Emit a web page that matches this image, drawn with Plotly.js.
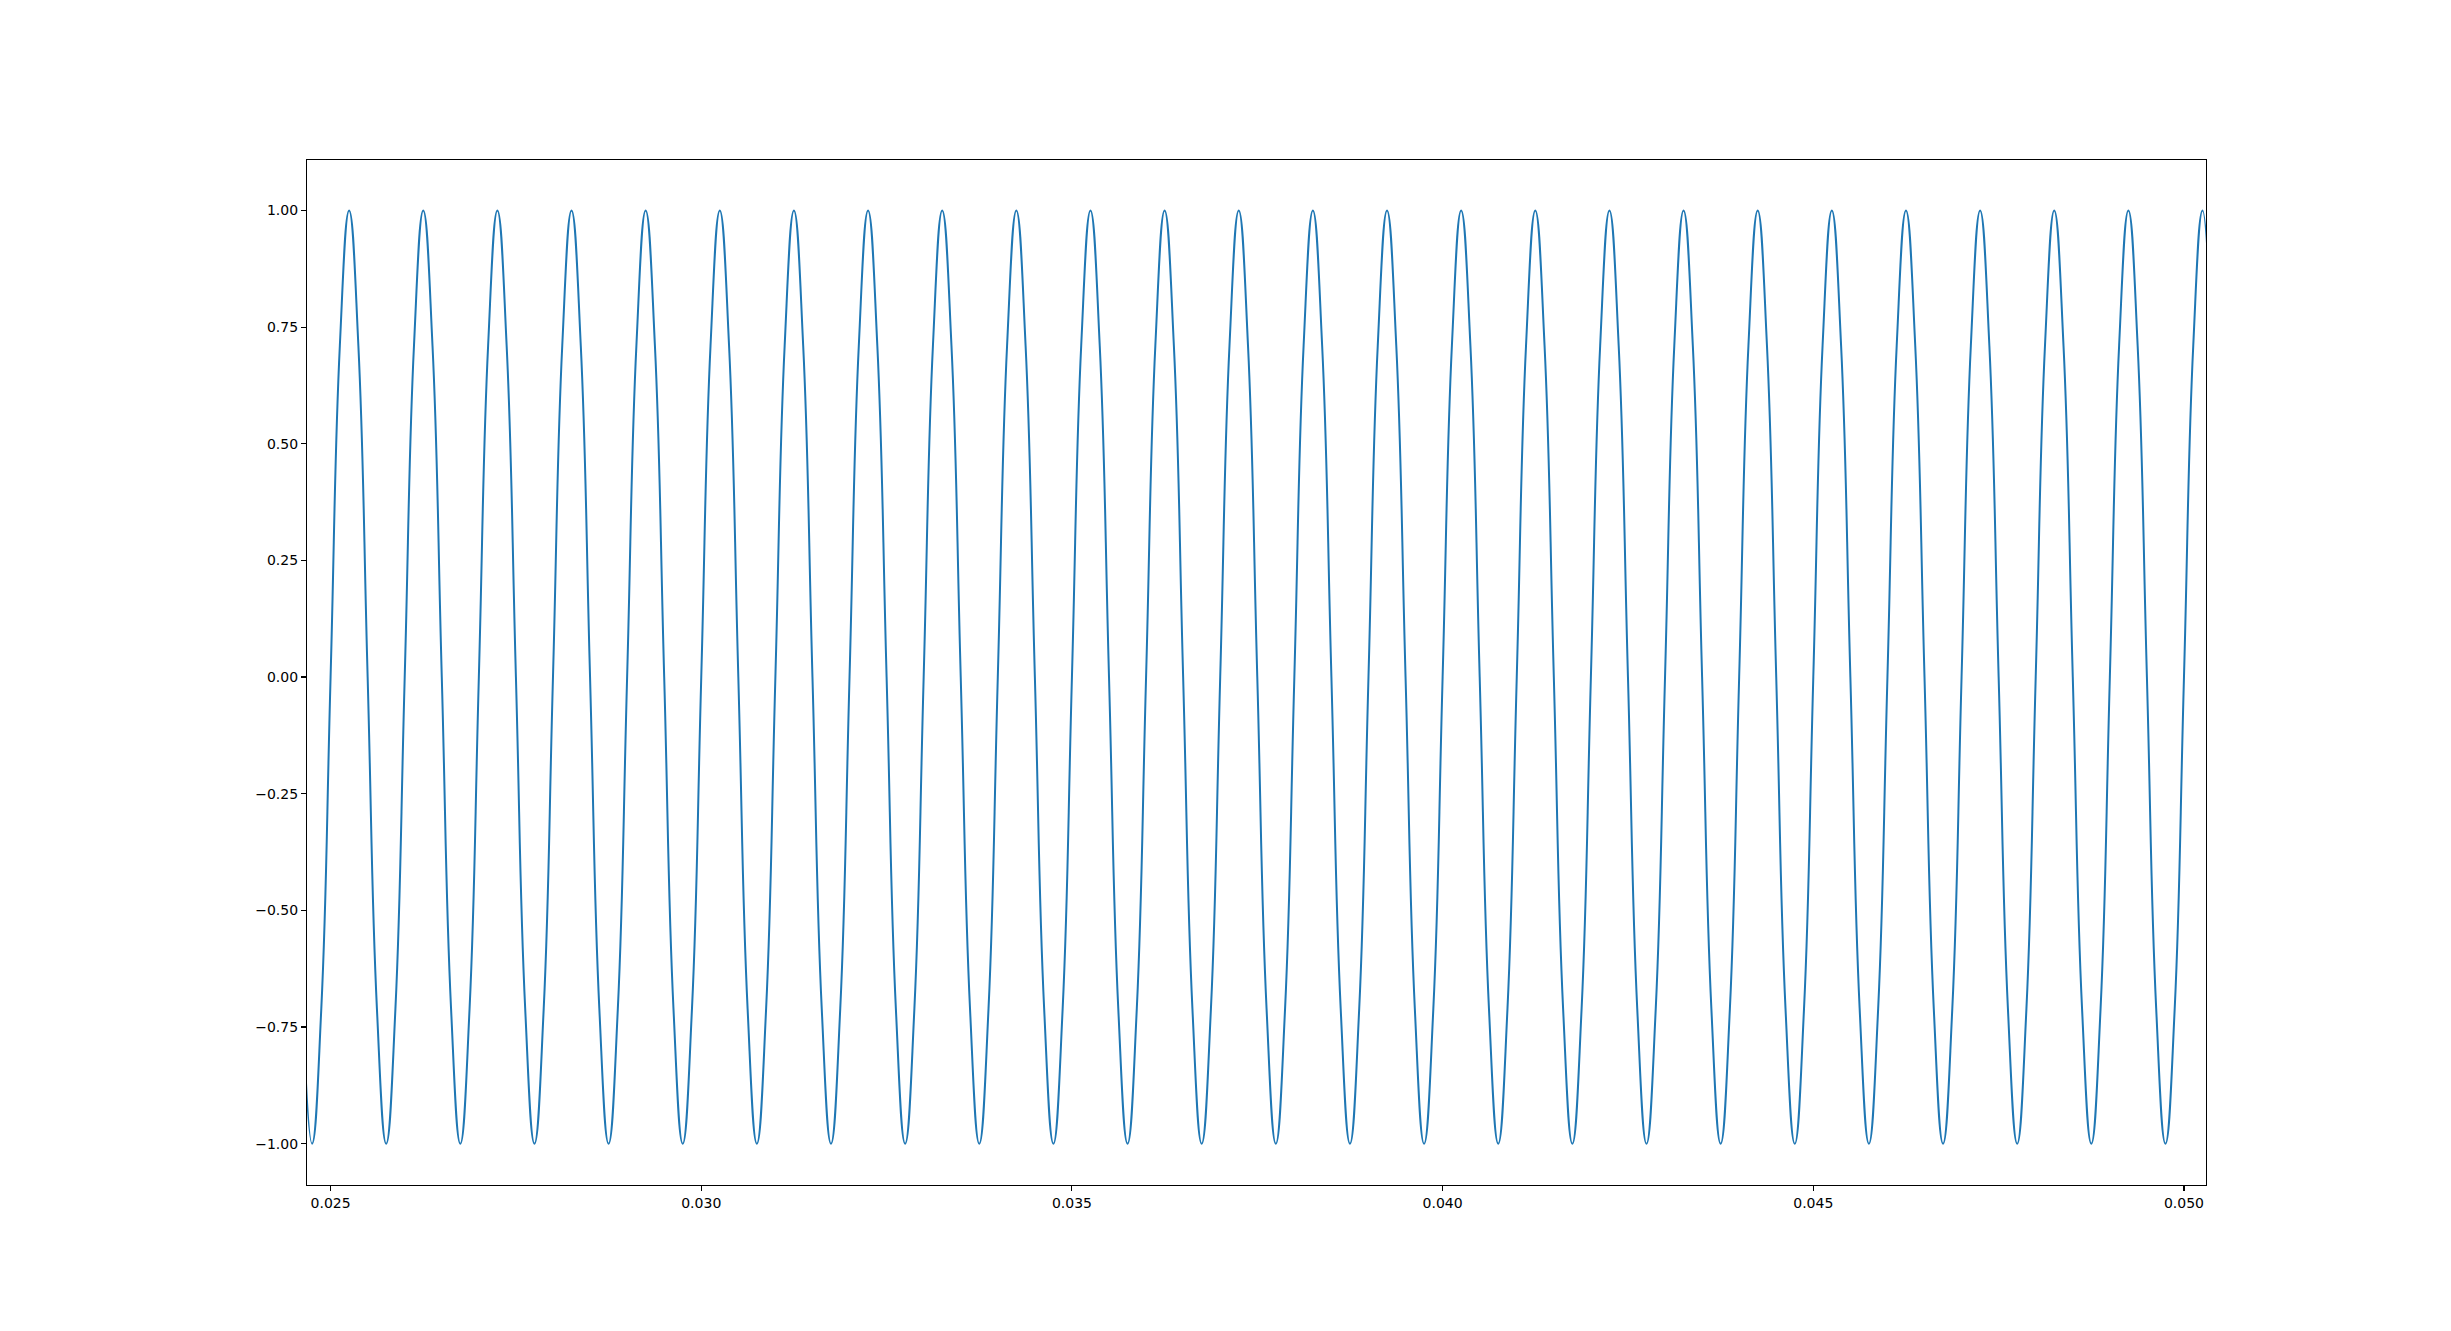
<!DOCTYPE html>
<html>
<head>
<meta charset="utf-8">
<script src="https://cdn.plot.ly/plotly-3.0.1.min.js"></script>
<style>html,body{margin:0;padding:0;background:#fff;}#chart{width:2451px;height:1331px;}</style>
</head>
<body>
<div id="chart"></div>
<script>
// Time samples (s), read at 1/8-period spacing from the picture
const timeS = [
  0.024625, 0.02475, 0.024875,
  0.025, 0.025125, 0.02525, 0.025375, 0.0255, 0.025625, 0.02575, 0.025875,
  0.026, 0.026125, 0.02625, 0.026375, 0.0265, 0.026625, 0.02675, 0.026875,
  0.027, 0.027125, 0.02725, 0.027375, 0.0275, 0.027625, 0.02775, 0.027875,
  0.028, 0.028125, 0.02825, 0.028375, 0.0285, 0.028625, 0.02875, 0.028875,
  0.029, 0.029125, 0.02925, 0.029375, 0.0295, 0.029625, 0.02975, 0.029875,
  0.030, 0.030125, 0.03025, 0.030375, 0.0305, 0.030625, 0.03075, 0.030875,
  0.031, 0.031125, 0.03125, 0.031375, 0.0315, 0.031625, 0.03175, 0.031875,
  0.032, 0.032125, 0.03225, 0.032375, 0.0325, 0.032625, 0.03275, 0.032875,
  0.033, 0.033125, 0.03325, 0.033375, 0.0335, 0.033625, 0.03375, 0.033875,
  0.034, 0.034125, 0.03425, 0.034375, 0.0345, 0.034625, 0.03475, 0.034875,
  0.035, 0.035125, 0.03525, 0.035375, 0.0355, 0.035625, 0.03575, 0.035875,
  0.036, 0.036125, 0.03625, 0.036375, 0.0365, 0.036625, 0.03675, 0.036875,
  0.037, 0.037125, 0.03725, 0.037375, 0.0375, 0.037625, 0.03775, 0.037875,
  0.038, 0.038125, 0.03825, 0.038375, 0.0385, 0.038625, 0.03875, 0.038875,
  0.039, 0.039125, 0.03925, 0.039375, 0.0395, 0.039625, 0.03975, 0.039875,
  0.040, 0.040125, 0.04025, 0.040375, 0.0405, 0.040625, 0.04075, 0.040875,
  0.041, 0.041125, 0.04125, 0.041375, 0.0415, 0.041625, 0.04175, 0.041875,
  0.042, 0.042125, 0.04225, 0.042375, 0.0425, 0.042625, 0.04275, 0.042875,
  0.043, 0.043125, 0.04325, 0.043375, 0.0435, 0.043625, 0.04375, 0.043875,
  0.044, 0.044125, 0.04425, 0.044375, 0.0445, 0.044625, 0.04475, 0.044875,
  0.045, 0.045125, 0.04525, 0.045375, 0.0455, 0.045625, 0.04575, 0.045875,
  0.046, 0.046125, 0.04625, 0.046375, 0.0465, 0.046625, 0.04675, 0.046875,
  0.047, 0.047125, 0.04725, 0.047375, 0.0475, 0.047625, 0.04775, 0.047875,
  0.048, 0.048125, 0.04825, 0.048375, 0.0485, 0.048625, 0.04875, 0.048875,
  0.049, 0.049125, 0.04925, 0.049375, 0.0495, 0.049625, 0.04975, 0.049875,
  0.050, 0.050125, 0.05025, 0.050375
];
// Signal amplitude read at those samples
const amplitude = [
  -0.71, -1, -0.71,
  0, 0.71, 1, 0.71, 0, -0.71, -1, -0.71,
  0, 0.71, 1, 0.71, 0, -0.71, -1, -0.71,
  0, 0.71, 1, 0.71, 0, -0.71, -1, -0.71,
  0, 0.71, 1, 0.71, 0, -0.71, -1, -0.71,
  0, 0.71, 1, 0.71, 0, -0.71, -1, -0.71,
  0, 0.71, 1, 0.71, 0, -0.71, -1, -0.71,
  0, 0.71, 1, 0.71, 0, -0.71, -1, -0.71,
  0, 0.71, 1, 0.71, 0, -0.71, -1, -0.71,
  0, 0.71, 1, 0.71, 0, -0.71, -1, -0.71,
  0, 0.71, 1, 0.71, 0, -0.71, -1, -0.71,
  0, 0.71, 1, 0.71, 0, -0.71, -1, -0.71,
  0, 0.71, 1, 0.71, 0, -0.71, -1, -0.71,
  0, 0.71, 1, 0.71, 0, -0.71, -1, -0.71,
  0, 0.71, 1, 0.71, 0, -0.71, -1, -0.71,
  0, 0.71, 1, 0.71, 0, -0.71, -1, -0.71,
  0, 0.71, 1, 0.71, 0, -0.71, -1, -0.71,
  0, 0.71, 1, 0.71, 0, -0.71, -1, -0.71,
  0, 0.71, 1, 0.71, 0, -0.71, -1, -0.71,
  0, 0.71, 1, 0.71, 0, -0.71, -1, -0.71,
  0, 0.71, 1, 0.71, 0, -0.71, -1, -0.71,
  0, 0.71, 1, 0.71, 0, -0.71, -1, -0.71,
  0, 0.71, 1, 0.71, 0, -0.71, -1, -0.71,
  0, 0.71, 1, 0.71, 0, -0.71, -1, -0.71,
  0, 0.71, 1, 0.71, 0, -0.71, -1, -0.71,
  0, 0.71, 1, 0.71, 0, -0.71, -1, -0.71,
  0, 0.71, 1, 0.71
];
const xTicks = [0.025, 0.030, 0.035, 0.040, 0.045, 0.050];
const xTickLabels = ['0.025', '0.030', '0.035', '0.040', '0.045', '0.050'];
const yTicks = [-1, -0.75, -0.5, -0.25, 0, 0.25, 0.5, 0.75, 1];
const yTickLabels = ['\u22121.00', '\u22120.75', '\u22120.50', '\u22120.25', '0.00', '0.25', '0.50', '0.75', '1.00'];

const trace = {
  x: timeS, y: amplitude, type: 'scatter', mode: 'lines',
  line: {color: '#1f77b4', width: 2, shape: 'spline', smoothing: 1.3},
  hoverinfo: 'skip'
};
const axisCommon = {
  showgrid: false, zeroline: false, showline: true, linecolor: '#000', linewidth: 1.1,
  mirror: true, ticks: 'outside', ticklen: 5, tickwidth: 1.1, tickcolor: '#000',
  tickfont: {family: 'DejaVu Sans', size: 14, color: '#000'}, tickmode: 'array'
};
const layout = {
  width: 2451, height: 1331,
  margin: {l: 307, r: 245, t: 160, b: 146, pad: 0},
  paper_bgcolor: '#fff', plot_bgcolor: '#fff',
  showlegend: false,
  xaxis: Object.assign({}, axisCommon, {range: [0.024682, 0.050297], tickvals: xTicks, ticktext: xTickLabels}),
  yaxis: Object.assign({}, axisCommon, {range: [-1.0885, 1.108], tickvals: yTicks, ticktext: yTickLabels})
};
Plotly.newPlot('chart', [trace], layout, {displayModeBar: false, staticPlot: true});
</script>
</body>
</html>
